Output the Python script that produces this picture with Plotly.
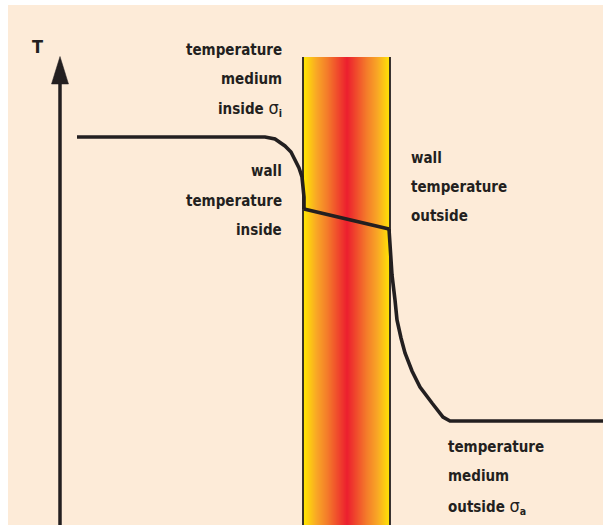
import plotly.graph_objects as go
import numpy as np

# Temperature profile (position x, temperature T) in drawing units
inside_x = [77, 265, 275, 285, 291, 295, 299, 302, 303, 304, 304]
inside_T = [388, 388, 386, 379, 373, 365, 357, 348, 338, 328, 316]
wall_x = [304, 389]
wall_T = [316, 296]
outside_x = [389, 390, 392, 395, 397, 401, 405, 412, 420, 432, 443, 450, 603]
outside_T = [296, 280, 250, 225, 205, 187, 172, 154, 138, 122, 108, 104, 104]

# Wall extent
wall_left, wall_right, wall_top = 303, 390, 468
wall_center = 347

# Labels
SIG = "<span style='font-weight:normal;font-size:18px'>σ</span>"
label_inside_medium = ["temperature", "medium", "inside " + SIG + "<sub>i</sub>"]
label_wall_inside = ["wall", "temperature", "inside"]
label_wall_outside = ["wall", "temperature", "outside"]
label_outside_medium = ["temperature", "medium", "outside " + SIG + "<sub>a</sub>"]

INK = "#231F20"
BG = "#FDEBD8"
FONT = "DejaVu Sans Condensed, DejaVu Sans, sans-serif"

fig = go.Figure()

# Wall gradient as heatmap
n = 88
edges = np.linspace(wall_left, wall_right, n + 1)
centers = (edges[:-1] + edges[1:]) / 2
half = max(wall_center - wall_left, wall_right - wall_center)
z = [list(np.abs(centers - wall_center) / half)]
fig.add_trace(go.Heatmap(
    x=edges, y=[0, wall_top], z=z, zmin=0, zmax=1,
    colorscale=[[0, "#EC1C2E"], [0.45, "#F47B2A"], [0.7, "#F9A825"], [1, "#FFEA00"]],
    showscale=False, hoverinfo="skip"))

# Wall borders
for xb in (wall_left, wall_right):
    fig.add_trace(go.Scatter(x=[xb, xb], y=[0, wall_top], mode="lines",
                             line=dict(color=INK, width=1.8), hoverinfo="skip"))

# T axis
fig.add_trace(go.Scatter(x=[60, 60], y=[-5, 442], mode="lines",
                         line=dict(color=INK, width=3.5), hoverinfo="skip"))
fig.add_trace(go.Scatter(x=[51.5, 68.5, 60, 51.5], y=[441, 441, 468.5, 441], mode="lines",
                         fill="toself", fillcolor=INK, line=dict(color=INK, width=0.5),
                         hoverinfo="skip"))

# Profile
for xs, ts in ((inside_x, inside_T), (wall_x, wall_T), (outside_x, outside_T)):
    fig.add_trace(go.Scatter(x=xs, y=ts, mode="lines",
                             line=dict(color=INK, width=3.6), hoverinfo="skip"))

ann = []
def block(lines, x, ys, anchor):
    for t, y in zip(lines, ys):
        ann.append(dict(x=x, y=y, text=t, showarrow=False, xanchor=anchor, yanchor="middle",
                        font=dict(family=FONT, size=15, color=INK, weight="bold"),
                        xref="x", yref="y"))

block(label_inside_medium, 284, [475, 446, 417], "right")
block(label_wall_inside, 284, [354, 324, 295], "right")
block(label_wall_outside, 409, [367, 338, 309], "left")
block(label_outside_medium, 446, [78, 49, 19], "left")
ann.append(dict(x=37, y=479, text="T", showarrow=False, xanchor="center", yanchor="middle",
                font=dict(family=FONT, size=18, color=INK, weight="bold")))
fig.update_layout(annotations=ann)

fig.update_layout(
    width=603, height=525,
    margin=dict(l=8, r=0, t=5, b=0),
    paper_bgcolor="white", plot_bgcolor=BG,
    showlegend=False,
    xaxis=dict(range=[8, 603], visible=False, fixedrange=True),
    yaxis=dict(range=[0, 520], visible=False, fixedrange=True),
)

fig.write_html("out.html", config={"displayModeBar": False},
               post_script="document.body.style.margin='0px';document.body.style.overflow='hidden';")
